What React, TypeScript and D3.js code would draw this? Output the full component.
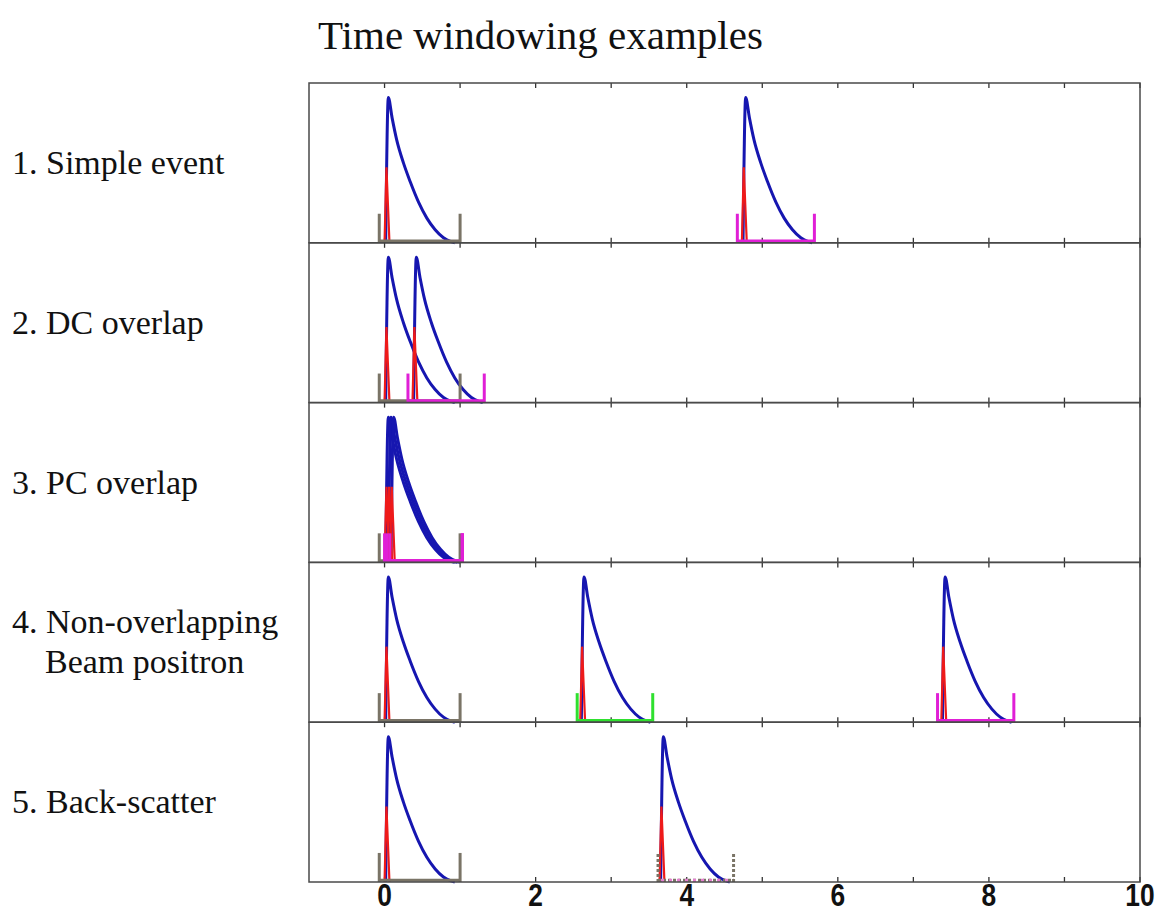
import React from "react";
import * as d3 from "d3";

// ---- data ----
const title = "Time windowing examples";
const panelLabels: string[][] = [
  ["1. Simple event"],
  ["2. DC overlap"],
  ["3. PC overlap"],
  ["4. Non-overlapping", "Beam positron"],
  ["5. Back-scatter"],
];
// pulse start times (per panel)
const pulseTimes: number[][] = [
  [0, 4.73],
  [0, 0.37],
  [0, 0.035, 0.07],
  [0, 2.59, 7.37],
  [0, 3.64],
];
// blue (slow) pulse shape: [time after pulse start, amplitude]
const bluePulse: [number, number][] = [
  [0.015, 0], [0.05, 1.0], [0.1, 0.86], [0.16, 0.71], [0.25, 0.55],
  [0.34, 0.42], [0.45, 0.28], [0.56, 0.17], [0.67, 0.09], [0.78, 0.035],
  [0.88, 0.008], [0.93, 0],
];
// red (fast) pulse shape
const redPulse: [number, number][] = [[0.0, 0], [0.025, 0.52], [0.065, 0]];
// time windows per panel
const windowStarts: number[][] = [
  [-0.07, 4.67],
  [-0.07, 0.31],
  [-0.07, 0.0, 0.035, 0.07],
  [-0.07, 2.55, 7.32],
  [-0.07, 3.62],
];
const windowEnds: number[][] = [
  [1.0, 5.69],
  [1.0, 1.32],
  [1.0, 1.03, 1.03, 1.03],
  [1.0, 3.55, 8.33],
  [1.0, 4.62],
];
const windowKinds: string[][] = [
  ["own", "next"],
  ["own", "next"],
  ["own", "next", "next", "next"],
  ["own", "beam", "next"],
  ["own", "back"],
];
const xTicks = [0, 1, 2, 3, 4, 5, 6, 7, 8, 9, 10];
const xTickLabels = [0, 2, 4, 6, 8, 10];
const xDomain: [number, number] = [-1, 10];
const yDomain: [number, number] = [0, 1.1];
const windowBarHeight = 0.2;

const kindColor: Record<string, string> = {
  own: "#7a7466",
  next: "#e01fd6",
  beam: "#2fe02f",
  back: "#7a7466",
};
const BLUE = "#1616b0";
const RED = "#ee1a1a";

export default function App() {
  const W = 1161, H = 915;
  const left = 309, right = 1140;
  const top = 83, bottom = 882;
  const nP = panelLabels.length;
  const ph = (bottom - top) / nP;
  const x = d3.scaleLinear().domain(xDomain).range([left, right]);

  const serif = "'Liberation Serif', 'Times New Roman', serif";

  return (
    <svg width={W} height={H} style={{ position: "absolute", left: 0, top: 0, background: "#fff" }}>
      <rect x={0} y={0} width={W} height={H} fill="#fff" />
      <text x={318} y={49} fontFamily={serif} fontSize={41} fill="#111">{title}</text>
      {panelLabels.map((lines, i) => {
        const y0 = top + i * ph;
        const y = d3.scaleLinear().domain(yDomain).range([y0 + ph, y0]);
        const line = d3.line<[number, number]>().x(d => x(d[0])).y(d => y(d[1])).curve(d3.curveMonotoneX);
        const redLine = d3.line<[number, number]>().x(d => x(d[0])).y(d => y(d[1]));
        const cy = y0 + ph / 2;
        const baseY = lines.length === 1 ? cy + 11 : cy - 9;
        return (
          <g key={i}>
            {lines.map((s, k) => (
              <text key={k} x={k === 0 ? 12 : 45} y={baseY + k * 40} fontFamily={serif} fontSize={34} fill="#111">{s}</text>
            ))}
            {/* ticks */}
            {xTicks.map(t => (
              <g key={t}>
                <line x1={x(t)} x2={x(t)} y1={y0 + ph} y2={y0 + ph - 5} stroke="#333" strokeWidth={1.3} />
                <line x1={x(t)} x2={x(t)} y1={y0} y2={y0 + 5} stroke="#333" strokeWidth={1.3} />
              </g>
            ))}
            {/* pulses */}
            {pulseTimes[i].map((t0, k) => (
              <path key={"b" + k} d={line(bluePulse.map(p => [t0 + p[0], p[1]] as [number, number])) || ""}
                fill="none" stroke={BLUE} strokeWidth={3} strokeLinejoin="round" />
            ))}
            {pulseTimes[i].map((t0, k) => (
              <path key={"r" + k} d={redLine(redPulse.map(p => [t0 + p[0], p[1]] as [number, number])) || ""}
                fill="none" stroke={RED} strokeWidth={2.2} />
            ))}
            {/* windows */}
            {windowStarts[i].map((s, k) => {
              const e = windowEnds[i][k];
              const kind = windowKinds[i][k];
              const c = kindColor[kind];
              const dash = kind === "back" ? "3,2" : undefined;
              const yb = y(0.012);
              const yt = y(windowBarHeight);
              return (
                <g key={"w" + k}>
                  <line x1={x(s)} x2={x(e)} y1={yb} y2={yb} stroke={c} strokeWidth={3} strokeDasharray={dash} />
                  {kind === "back" && (
                    <line x1={x(s)} x2={x(e)} y1={yb} y2={yb} stroke="#e67fd0" strokeWidth={3} strokeDasharray="3,5" strokeDashoffset={-3} />
                  )}
                  <line x1={x(s)} x2={x(s)} y1={y(0)} y2={yt} stroke={c} strokeWidth={3} strokeDasharray={dash} />
                  <line x1={x(e)} x2={x(e)} y1={y(0)} y2={yt} stroke={c} strokeWidth={3} strokeDasharray={dash} />
                </g>
              );
            })}
            {/* panel frame */}
            <rect x={left} y={y0} width={right - left} height={ph} fill="none" stroke="#4a4a4a" strokeWidth={1.5} />
          </g>
        );
      })}
      {xTickLabels.map(t => (
        <text key={t} transform={`translate(${x(t)},906) scale(0.85,1)`} textAnchor="middle"
          fontFamily="'Liberation Sans', Arial, sans-serif"
          fontWeight="bold" fontSize={31} fill="#111">{t}</text>
      ))}
    </svg>
  );
}
